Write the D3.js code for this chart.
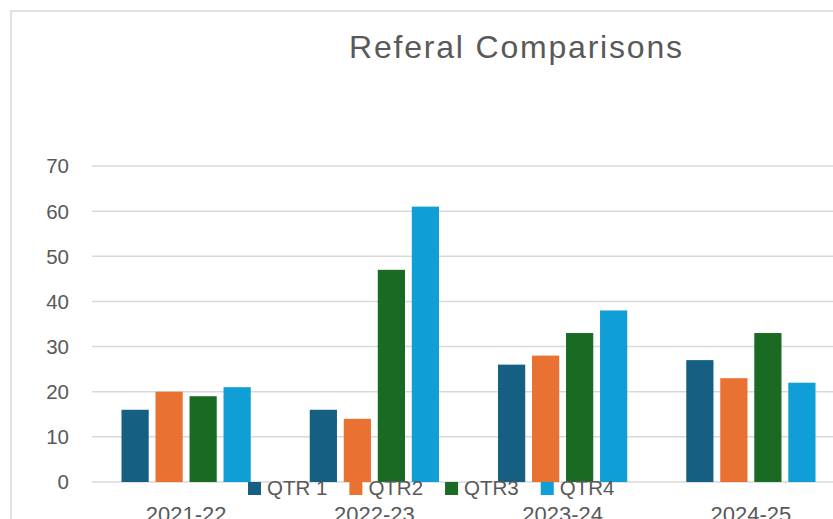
<!DOCTYPE html>
<html>
<head>
<meta charset="utf-8">
<script src="https://cdn.jsdelivr.net/npm/d3@7"></script>
<style>
  html, body { margin: 0; padding: 0; background: #fff; }
  svg { display: block; }
  text { font-family: "Liberation Sans", Arial, sans-serif; fill: #595959; }
</style>
</head>
<body>
<svg id="chart" width="833" height="519"></svg>
<script>
// chart data
const years = ["2021-22", "2022-23", "2023-24", "2024-25"];
const quarters = ["QTR 1", "QTR2", "QTR3", "QTR4"];
const qtr1 = [16, 16, 26, 27];
const qtr2 = [20, 14, 28, 23];
const qtr3 = [19, 47, 33, 33];
const qtr4 = [21, 61, 38, 22];
const yTicks = [0, 10, 20, 30, 40, 50, 60, 70];
const colors = ["#156082", "#E97132", "#196B24", "#0F9ED5"];

const series = [qtr1, qtr2, qtr3, qtr4];

const svg = d3.select("#chart");

// outer chart frame (only top/left edges are visible)
svg.append("path")
  .attr("d", "M11,833V11H840")
  .attr("fill", "none")
  .attr("stroke", "#d9d9d9")
  .attr("stroke-width", 1.5);

// title
svg.append("text")
  .attr("x", 349)
  .attr("y", 58)
  .attr("font-size", 32)
  .attr("textLength", 333)
  .attr("lengthAdjust", "spacing")
  .text("Referal Comparisons");

const x0 = d3.scaleBand()
  .domain(years)
  .range([92, 845]);

const x1 = d3.scaleBand()
  .domain(quarters)
  .range([29.5, x0.bandwidth() - 29.5])
  .paddingInner(0.2);

const y = d3.scaleLinear()
  .domain([0, 70])
  .range([482, 166]);

// gridlines
svg.append("g")
  .selectAll("line")
  .data(yTicks)
  .join("line")
  .attr("x1", 92)
  .attr("x2", 845)
  .attr("y1", d => y(d))
  .attr("y2", d => y(d))
  .attr("stroke", "#d9d9d9")
  .attr("stroke-width", 1.5);

// y tick labels
svg.append("g")
  .selectAll("text")
  .data(yTicks)
  .join("text")
  .attr("x", 69)
  .attr("y", d => y(d))
  .attr("dy", "0.36em")
  .attr("text-anchor", "end")
  .attr("font-size", 20.5)
  .text(d => d);

// bars
const groups = svg.append("g")
  .selectAll("g")
  .data(years)
  .join("g")
  .attr("transform", d => `translate(${x0(d)},0)`);

groups.selectAll("rect")
  .data((d, i) => quarters.map((q, j) => ({ q: q, v: series[j][i], c: colors[j] })))
  .join("rect")
  .attr("x", d => x1(d.q))
  .attr("width", x1.bandwidth())
  .attr("y", d => y(d.v))
  .attr("height", d => y(0) - y(d.v))
  .attr("fill", d => d.c);

// category labels (the original crops them at the bottom edge)
svg.append("g")
  .selectAll("text")
  .data(years)
  .join("text")
  .attr("x", d => x0(d) + x0.bandwidth() / 2)
  .attr("y", 522)
  .attr("text-anchor", "middle")
  .attr("font-size", 22)
  .text(d => d);

// legend, laid over the axis like in the original
const legend = svg.append("g");
let lx = 248;
quarters.forEach((q, j) => {
  legend.append("rect")
    .attr("x", lx)
    .attr("y", 482)
    .attr("width", 13)
    .attr("height", 13)
    .attr("fill", colors[j]);
  const t = legend.append("text")
    .attr("x", lx + 19)
    .attr("y", 495)
    .attr("font-size", 20.5)
    .text(q);
  lx += 19 + t.node().getComputedTextLength() + 22;
});
</script>
</body>
</html>
